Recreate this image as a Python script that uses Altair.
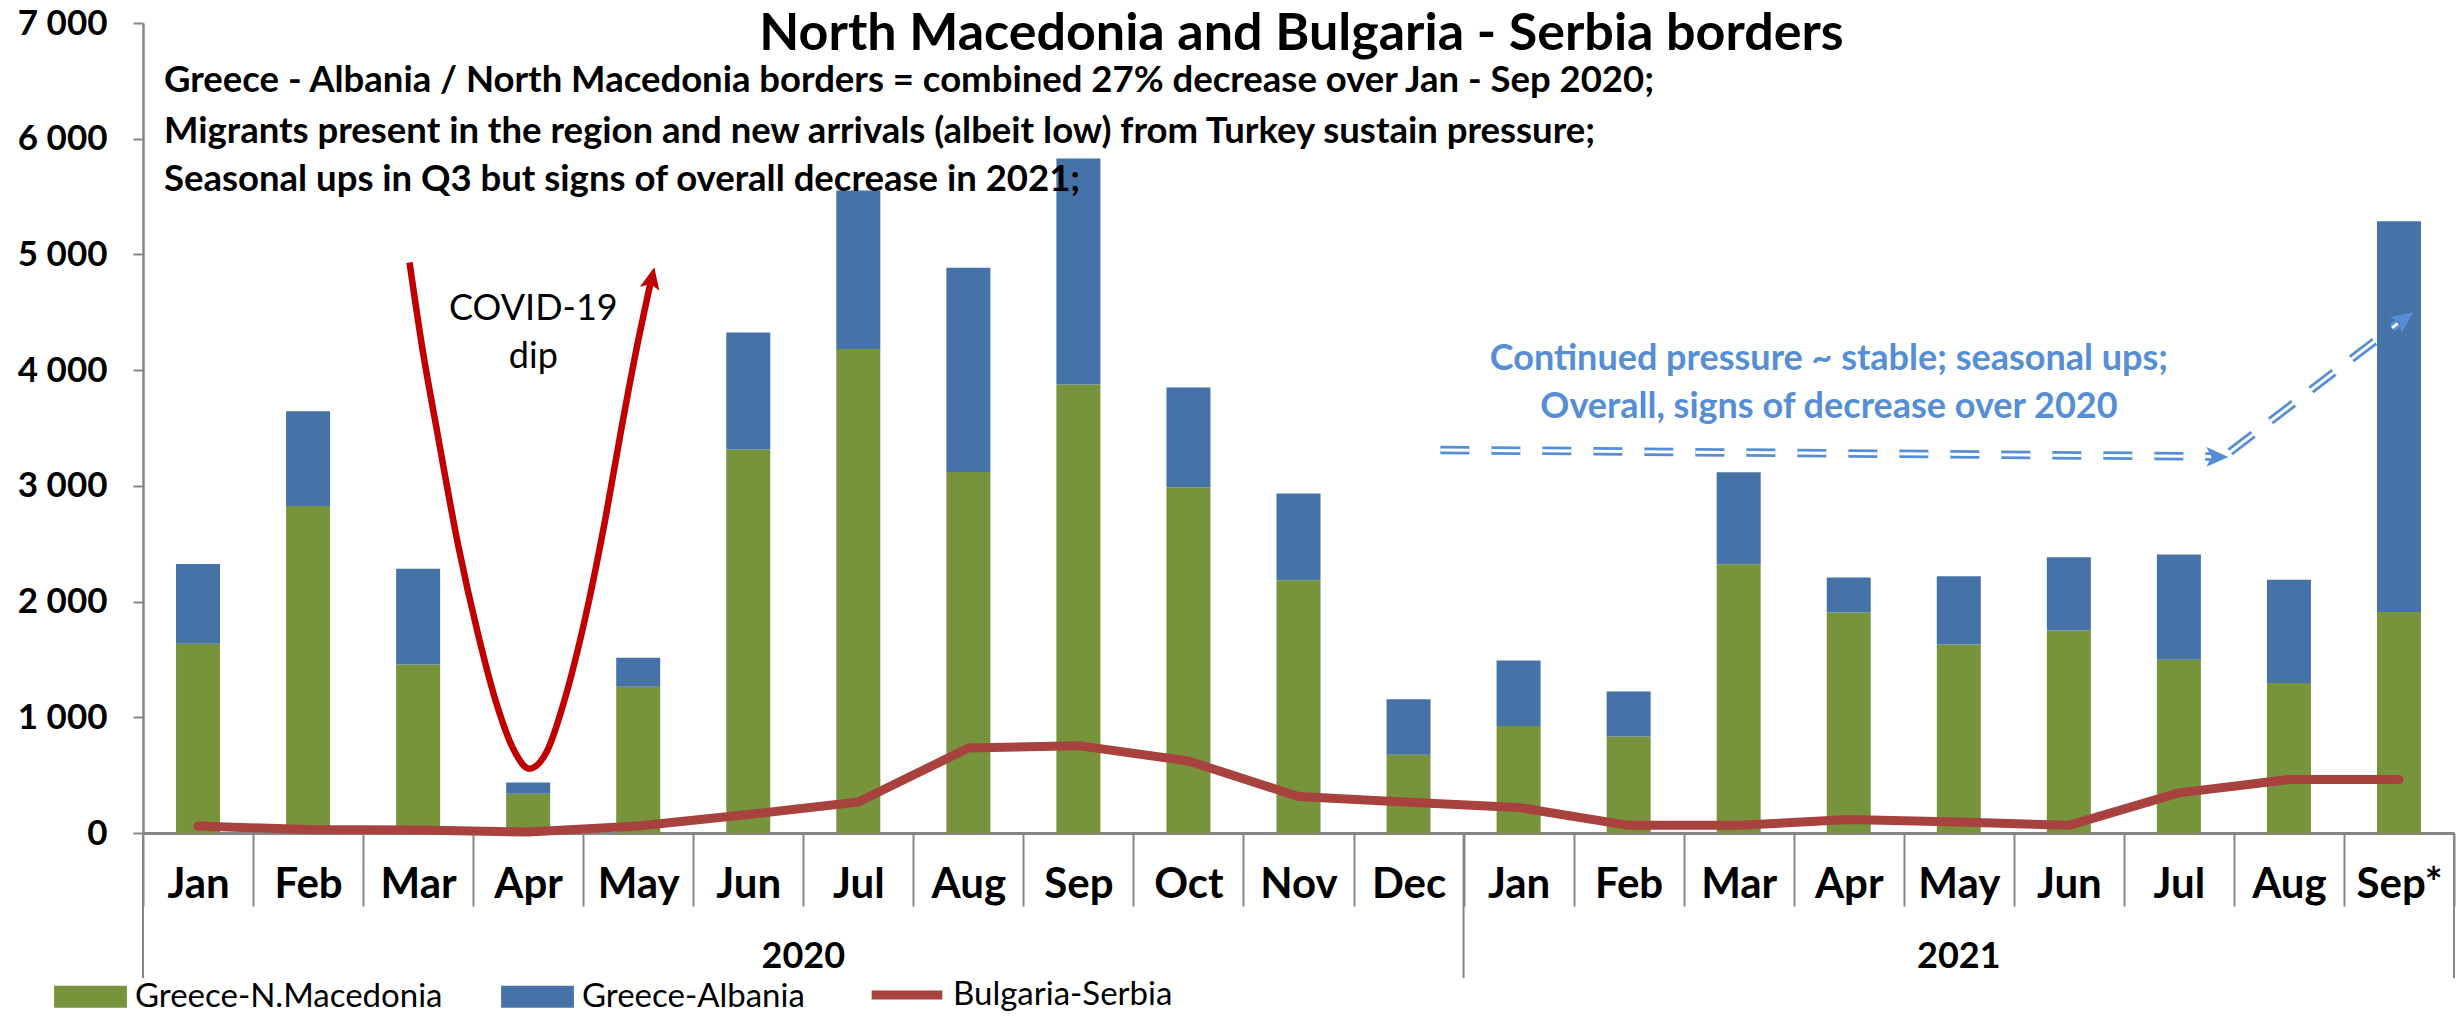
import altair as alt
import pandas as pd

# ---------------- data ----------------
years = ["2020"] * 12 + ["2021"] * 9
months = ["Jan", "Feb", "Mar", "Apr", "May", "Jun", "Jul", "Aug", "Sep", "Oct", "Nov", "Dec",
          "Jan", "Feb", "Mar", "Apr", "May", "Jun", "Jul", "Aug", "Sep*"]
greece_nmk = [1635, 2825, 1457, 340, 1263, 3314, 4182, 3119, 3875, 2987, 2185, 676,
              925, 833, 2322, 1906, 1628, 1751, 1497, 1296, 1910]
greece_alb = [690, 819, 827, 96, 252, 1012, 1371, 1765, 1955, 863, 748, 480,
              566, 390, 796, 301, 591, 633, 910, 892, 3376]
bulgaria_srb = [60, 30, 25, 8, 60, 160, 268, 734, 755, 622, 316, 265,
                220, 66, 66, 116, 96, 66, 347, 462, 462]
series_names = ["Greece-N.Macedonia", "Greece-Albania", "Bulgaria-Serbia"]
series_colors = ["#77933C", "#4572A7", "#A8423F"]

title_text = "North Macedonia and Bulgaria - Serbia borders"
notes = ["Greece - Albania / North Macedonia borders = combined 27% decrease over Jan - Sep 2020;",
         "Migrants present in the region and new arrivals (albeit low) from Turkey sustain pressure;",
         "Seasonal ups in Q3 but signs of overall decrease in 2021;"]
covid_lines = ["COVID-19", "dip"]
blue_lines = ["Continued pressure ~ stable; seasonal ups;", "Overall, signs of decrease over 2020"]

FONT = "Lato"
W, H = 2311, 810
n = len(months)
cats = [f"{y}-{m}" for y, m in zip(years, months)]

bars_df = pd.DataFrame({
    "cat": cats * 2,
    "series": [series_names[0]] * n + [series_names[1]] * n,
    "value": greece_nmk + greece_alb,
    "ord": [0] * n + [1] * n,
})
line_df = pd.DataFrame({"cat": cats, "series": series_names[2], "value": bulgaria_srb})

# year groups for the two-level axis
year_list = sorted(set(years))
year_df = pd.DataFrame({
    "year": year_list,
    "center": [(years.index(y) + (len(years) - 1 - years[::-1].index(y))) / 2 for y in year_list],
})
bounds_df = pd.DataFrame({"b": [-0.5] + [len(years) - 1 - years[::-1].index(y) + 0.5 for y in year_list]})

YDOM = [0, 7000]
yscale = alt.Scale(domain=YDOM, nice=False, zero=True)
xq_scale = alt.Scale(domain=[-0.5, n - 0.5], nice=False, zero=False)


def XQ(field):
    return alt.X(f"{field}:Q", scale=xq_scale, axis=None)


def YQ(field):
    return alt.Y(f"{field}:Q", scale=yscale, title=None)


# ---------------- bars ----------------
bars = alt.Chart(bars_df).mark_bar(size=44).encode(
    x=alt.X("cat:N", sort=cats,
            scale=alt.Scale(paddingInner=0, paddingOuter=0),
            axis=alt.Axis(title=None, labelExpr="split(datum.value,'-')[1]", labelAngle=0,
                          labelFont=FONT, labelFontWeight="bold", labelFontSize=42,
                          labelColor="black", tickBand="extent", tickSize=73,
                          tickColor="#868686", tickWidth=2, domainColor="#868686",
                          domainWidth=3, labelPadding=-42, labelBaseline="top")),
    y=alt.Y("value:Q", stack="zero", scale=yscale, title=None,
            axis=alt.Axis(title=None, values=list(range(0, 7001, 1000)),
                          labelExpr="replace(format(datum.value, ','), ',', ' ')",
                          labelFont=FONT, labelFontWeight="bold", labelFontSize=35,
                          labelColor="black", tickSize=10, tickColor="#868686", tickWidth=2,
                          domainColor="#868686", domainWidth=2.5, labelPadding=26, grid=False)),
    color=alt.Color("series:N",
                    scale=alt.Scale(domain=series_names[:2], range=series_colors[:2]),
                    legend=alt.Legend(title=None, orient="none", legendX=-89, legendY=937,
                                      direction="horizontal",
                                      symbolType="M-1,-0.3H1V0.3H-1Z", symbolSize=5300,
                                      symbolStrokeWidth=0, symbolOpacity=1,
                                      labelFont=FONT, labelFontSize=33, labelColor="black",
                                      labelOffset=8, labelLimit=600, columnPadding=58)),
    order=alt.Order("ord:Q", sort="ascending"),
)

line = alt.Chart(line_df).mark_line(strokeWidth=9, strokeCap="round", strokeJoin="round").encode(
    x=alt.X("cat:N", sort=cats, axis=None),
    y=YQ("value"),
    stroke=alt.Stroke("series:N",
                      scale=alt.Scale(domain=[series_names[2]], range=[series_colors[2]]),
                      legend=alt.Legend(title=None, orient="none", legendX=724, legendY=932,
                                        direction="horizontal", symbolType="stroke",
                                        symbolSize=5000, symbolStrokeWidth=9,
                                        labelFont=FONT, labelFontSize=33, labelColor="black",
                                        labelOffset=6, labelLimit=600)),
)

# ---------------- two-level axis: year labels and separators ----------------
year_text = alt.Chart(year_df).mark_text(font=FONT, fontWeight="bold", fontSize=36,
                                         color="black", baseline="alphabetic").encode(
    x=XQ("center"), y=alt.value(945), text="year:N")
year_sep = alt.Chart(bounds_df).mark_rule(color="#868686", strokeWidth=2).encode(
    x=XQ("b"), y=alt.value(H), y2=alt.value(H + 145))

# ---------------- title ----------------
title_mark = alt.Chart(pd.DataFrame({"t": [title_text]})).mark_text(
    font=FONT, fontWeight="bold", fontSize=52, color="black", align="center",
    baseline="alphabetic").encode(x=alt.value(W / 2 + 3), y=alt.value(27), text="t:N")

# ---------------- annotations ----------------
notes_df = pd.DataFrame({"t": notes, "x": [-0.309] * 3, "y": [6405, 5960, 5550]})
notes_mark = alt.Chart(notes_df).mark_text(font=FONT, fontWeight="bold", fontSize=36.5,
                                           color="black", align="left",
                                           baseline="alphabetic").encode(
    x=XQ("x"), y=YQ("y"), text="t:N")

covid_df = pd.DataFrame({
    "x": [1.922, 2.039, 2.178, 2.363, 2.548, 2.710, 2.872, 3.011, 3.174, 3.336, 3.521,
          3.706, 3.845, 3.985, 4.120],
    "y": [4930, 4186, 3442, 2491, 1705, 1126, 713, 556, 713, 1168, 1870,
          2739, 3483, 4186, 4790],
})
covid_curve = alt.Chart(covid_df).mark_line(color="#C00000", strokeWidth=6.5,
                                            interpolate="monotone").encode(
    x=XQ("x"), y=YQ("y"), order="x:Q")

ARROW = "M0,-1L0.9,1L0,0.55L-0.9,1Z"
covid_head = alt.Chart(pd.DataFrame({"x": [4.125], "y": [4796]})).mark_point(
    shape=ARROW, filled=True, color="#C00000", size=484, angle=12, opacity=1,
    strokeWidth=0).encode(x=XQ("x"), y=YQ("y"))

covid_txt = alt.Chart(pd.DataFrame({"t": covid_lines, "x": [3.047] * 2, "y": [4434, 4019]})).mark_text(
    font=FONT, fontSize=36, color="black", align="center", baseline="alphabetic").encode(
    x=XQ("x"), y=YQ("y"), text="t:N")

blue_txt = alt.Chart(pd.DataFrame({"t": blue_lines, "x": [14.82] * 2, "y": [4002, 3587]})).mark_text(
    font=FONT, fontWeight="bold", fontSize=36, color="#558ED5", align="center",
    baseline="alphabetic").encode(x=XQ("x"), y=YQ("y"), text="t:N")

blue_path = pd.DataFrame({
    "seg": ["h", "h", "d", "d"],
    "x": [11.289, 18.283, 18.465, 19.99],
    "y": [3310, 3254, 3293, 4404],
})
blue_outer = alt.Chart(blue_path).mark_line(color="#558ED5", strokeWidth=8.5,
                                            strokeDash=[29, 22]).encode(
    x=XQ("x"), y=YQ("y"), detail="seg:N")
blue_inner = alt.Chart(blue_path).mark_line(color="white", strokeWidth=3,
                                            strokeDash=[29, 22]).encode(
    x=XQ("x"), y=YQ("y"), detail="seg:N")
blue_heads = alt.Chart(pd.DataFrame({"x": [18.35, 20.05], "y": [3250, 4444],
                                     "a": [90, 54]})).mark_point(
    shape=ARROW, filled=True, color="#558ED5", size=484, opacity=1, strokeWidth=0).encode(
    x=XQ("x"), y=YQ("y"), angle=alt.Angle("a:Q", scale=None))

chart = alt.layer(
    bars, line, year_sep, year_text, title_mark, notes_mark, covid_curve, covid_head, covid_txt,
    blue_outer, blue_inner, blue_heads, blue_txt,
).resolve_scale(x="independent").properties(
    width=W, height=H,
    padding={"left": 143, "top": 23, "right": 4, "bottom": 183},
    autosize=alt.AutoSizeParams(type="none"),
    background="white",
).configure_view(stroke=None)

chart.save("out.html", embed_options={"renderer": "svg", "actions": False})
